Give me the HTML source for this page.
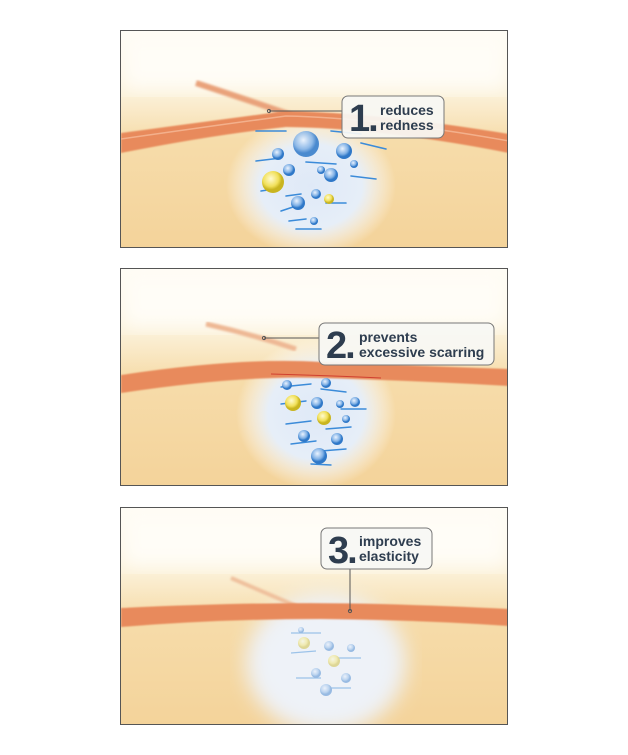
<!DOCTYPE html>
<html><head><style>
body{margin:0;background:#fff;width:628px;height:755px;position:relative;overflow:hidden;font-family:"Liberation Sans",sans-serif}
.p{position:absolute;left:120px;width:388px;height:218px;border:1px solid #555;box-sizing:border-box;overflow:hidden}
svg{display:block}
</style></head><body>

<div class="p" style="top:30px">
<svg width="388" height="218" viewBox="0 0 388 218">
<defs>
<linearGradient id="bg" x1="0" y1="0" x2="0" y2="1"><stop offset="0" stop-color="#fefcf4"/><stop offset=".3" stop-color="#fbf0d6"/><stop offset=".5" stop-color="#f6dcaa"/><stop offset="1" stop-color="#f4d39a"/></linearGradient>
<filter id="b8"><feGaussianBlur stdDeviation="10"/></filter>
<filter id="b2"><feGaussianBlur stdDeviation="1"/></filter>
<filter id="b1"><feGaussianBlur stdDeviation="0.7"/></filter>
<radialGradient id="cl"><stop offset="0" stop-color="#dfe9f7"/><stop offset=".6" stop-color="#e6eef8"/><stop offset="1" stop-color="#fff" stop-opacity="0"/></radialGradient>
<radialGradient id="bu" cx=".4" cy=".35"><stop offset="0" stop-color="#eaf3ff"/><stop offset=".7" stop-color="#7fb0e5"/><stop offset="1" stop-color="#2f78c8"/></radialGradient>
<radialGradient id="ye" cx=".4" cy=".35"><stop offset="0" stop-color="#fffbd0"/><stop offset=".7" stop-color="#f1e05a"/><stop offset="1" stop-color="#c9b520"/></radialGradient>
</defs>
<rect width="388" height="218" fill="url(#bg)"/>
<rect x="0" y="0" width="388" height="60" fill="#fffdf7" filter="url(#b8)"/>
<ellipse cx="190" cy="155" rx="85" ry="70" fill="url(#cl)"/>
<path d="M75 52 Q130 70 170 84" stroke="#e9a27a" stroke-width="6" fill="none" filter="url(#b2)"/>
<path d="M0 102 Q90 90 165 80 Q260 82 388 103 L388 122 Q260 97 165 96 Q90 104 0 122Z" fill="#e88a5c" filter="url(#b1)"/>
<path d="M0 108 Q90 95 165 85 Q260 87 388 110" stroke="#f3b08c" stroke-width="1.5" fill="none"/>
<g stroke="#3b8bd9" stroke-width="1.6" stroke-linecap="round">
<line x1="135" y1="100" x2="165" y2="100"/><line x1="210" y1="100" x2="240" y2="103"/><line x1="240" y1="112" x2="265" y2="118"/><line x1="135" y1="130" x2="160" y2="127"/><line x1="185" y1="131" x2="215" y2="133"/><line x1="230" y1="145" x2="255" y2="148"/><line x1="140" y1="160" x2="160" y2="157"/><line x1="165" y1="165" x2="180" y2="163"/><line x1="205" y1="172" x2="225" y2="172"/><line x1="160" y1="180" x2="175" y2="175"/><line x1="175" y1="198" x2="200" y2="198"/><line x1="168" y1="190" x2="185" y2="188"/>
</g>
<circle cx="185" cy="113" r="13" fill="url(#bu)" opacity=".85"/>
<circle cx="223" cy="120" r="8" fill="url(#bu)"/>
<circle cx="157" cy="123" r="6" fill="url(#bu)"/>
<circle cx="233" cy="133" r="4" fill="url(#bu)"/>
<circle cx="210" cy="144" r="7" fill="url(#bu)"/>
<circle cx="200" cy="139" r="4" fill="url(#bu)"/>
<circle cx="168" cy="139" r="6" fill="url(#bu)"/>
<circle cx="152" cy="151" r="11" fill="url(#ye)"/>
<circle cx="195" cy="163" r="5" fill="url(#bu)"/>
<circle cx="208" cy="168" r="5" fill="url(#ye)"/>
<circle cx="177" cy="172" r="7" fill="url(#bu)"/>
<circle cx="193" cy="190" r="4" fill="url(#bu)"/>
<line x1="148" y1="80" x2="221" y2="80" stroke="#555" stroke-width="1"/>
<circle cx="148" cy="80" r="1.6" fill="none" stroke="#555"/>
<rect x="221" y="65" width="102" height="42" rx="6" fill="#f7f7f4" fill-opacity=".93" stroke="#777"/>
<text x="228" y="100" font-size="38" font-weight="bold" fill="#2e3d4f" letter-spacing="-2">1.</text>
<text x="259" y="84" font-size="14" font-weight="bold" fill="#2e3d4f">reduces</text>
<text x="259" y="99" font-size="14" font-weight="bold" fill="#2e3d4f">redness</text>
</svg></div>

<div class="p" style="top:268px">
<svg width="388" height="218" viewBox="0 0 388 218">
<rect width="388" height="218" fill="url(#bg)"/>
<rect x="0" y="0" width="388" height="60" fill="#fffdf7" filter="url(#b8)"/>
<ellipse cx="195" cy="145" rx="80" ry="75" fill="url(#cl)"/>
<path d="M85 55 Q130 65 175 80" stroke="#eeb894" stroke-width="5" fill="none" filter="url(#b2)"/>
<path d="M0 106 Q120 88 200 93 Q300 97 388 100 L388 117 Q300 112 200 109 Q120 106 0 124Z" fill="#e88a5c" filter="url(#b1)"/>
<path d="M150 105 Q220 107 260 109" stroke="#d04030" stroke-width="1" fill="none"/>
<g stroke="#3b8bd9" stroke-width="1.4" stroke-linecap="round">
<line x1="160" y1="118" x2="190" y2="115"/><line x1="200" y1="120" x2="225" y2="123"/><line x1="160" y1="135" x2="185" y2="132"/><line x1="220" y1="140" x2="245" y2="140"/><line x1="165" y1="155" x2="190" y2="152"/><line x1="205" y1="160" x2="230" y2="158"/><line x1="170" y1="175" x2="195" y2="172"/><line x1="200" y1="182" x2="225" y2="180"/><line x1="190" y1="195" x2="210" y2="196"/>
</g>
<circle cx="166" cy="116" r="5" fill="url(#bu)"/>
<circle cx="205" cy="114" r="5" fill="url(#bu)"/>
<circle cx="172" cy="134" r="8" fill="url(#ye)"/>
<circle cx="196" cy="134" r="6" fill="url(#bu)"/>
<circle cx="219" cy="135" r="4" fill="url(#bu)"/>
<circle cx="234" cy="133" r="5" fill="url(#bu)"/>
<circle cx="203" cy="149" r="7" fill="url(#ye)"/>
<circle cx="225" cy="150" r="4" fill="url(#bu)"/>
<circle cx="183" cy="167" r="6" fill="url(#bu)"/>
<circle cx="216" cy="170" r="6" fill="url(#bu)"/>
<circle cx="198" cy="187" r="8" fill="url(#bu)"/>
<line x1="143" y1="69" x2="198" y2="69" stroke="#555"/>
<circle cx="143" cy="69" r="1.6" fill="none" stroke="#555"/>
<rect x="198" y="54" width="175" height="42" rx="6" fill="#f7f7f4" fill-opacity=".93" stroke="#777"/>
<text x="205" y="89" font-size="38" font-weight="bold" fill="#2e3d4f" letter-spacing="-2">2.</text>
<text x="238" y="73" font-size="14" font-weight="bold" fill="#2e3d4f">prevents</text>
<text x="238" y="88" font-size="14" font-weight="bold" fill="#2e3d4f">excessive scarring</text>
</svg></div>

<div class="p" style="top:507px">
<svg width="388" height="218" viewBox="0 0 388 218">
<rect width="388" height="218" fill="url(#bg)"/>
<rect x="0" y="0" width="388" height="60" fill="#fffdf7" filter="url(#b8)"/>
<ellipse cx="205" cy="155" rx="80" ry="70" fill="#eef2f8" filter="url(#b8)"/>
<path d="M110 70 Q145 85 175 98" stroke="#efc09c" stroke-width="4" fill="none" filter="url(#b2)"/>
<path d="M0 100 Q150 93 260 96 Q330 98 388 101 L388 118 Q300 112 200 111 Q100 111 0 119Z" fill="#e88a5c" filter="url(#b1)"/>
<g opacity=".45">
<g stroke="#3b8bd9" stroke-width="1.2"><line x1="170" y1="125" x2="200" y2="125"/><line x1="170" y1="145" x2="195" y2="143"/><line x1="210" y1="150" x2="240" y2="150"/><line x1="175" y1="170" x2="200" y2="170"/><line x1="205" y1="180" x2="230" y2="180"/></g>
<circle cx="183" cy="135" r="6" fill="url(#ye)"/><circle cx="208" cy="138" r="5" fill="url(#bu)"/><circle cx="213" cy="153" r="6" fill="url(#ye)"/><circle cx="230" cy="140" r="4" fill="url(#bu)"/><circle cx="195" cy="165" r="5" fill="url(#bu)"/><circle cx="225" cy="170" r="5" fill="url(#bu)"/><circle cx="205" cy="182" r="6" fill="url(#bu)"/><circle cx="180" cy="122" r="3" fill="url(#bu)"/>
</g>
<line x1="229" y1="61" x2="229" y2="103" stroke="#555"/>
<circle cx="229" cy="103" r="1.6" fill="none" stroke="#555"/>
<rect x="200" y="20" width="111" height="41" rx="6" fill="#f7f7f4" fill-opacity=".93" stroke="#777"/>
<text x="207" y="55" font-size="38" font-weight="bold" fill="#2e3d4f" letter-spacing="-2">3.</text>
<text x="238" y="38" font-size="14" font-weight="bold" fill="#2e3d4f">improves</text>
<text x="238" y="53" font-size="14" font-weight="bold" fill="#2e3d4f">elasticity</text>
</svg></div>
</body></html>
